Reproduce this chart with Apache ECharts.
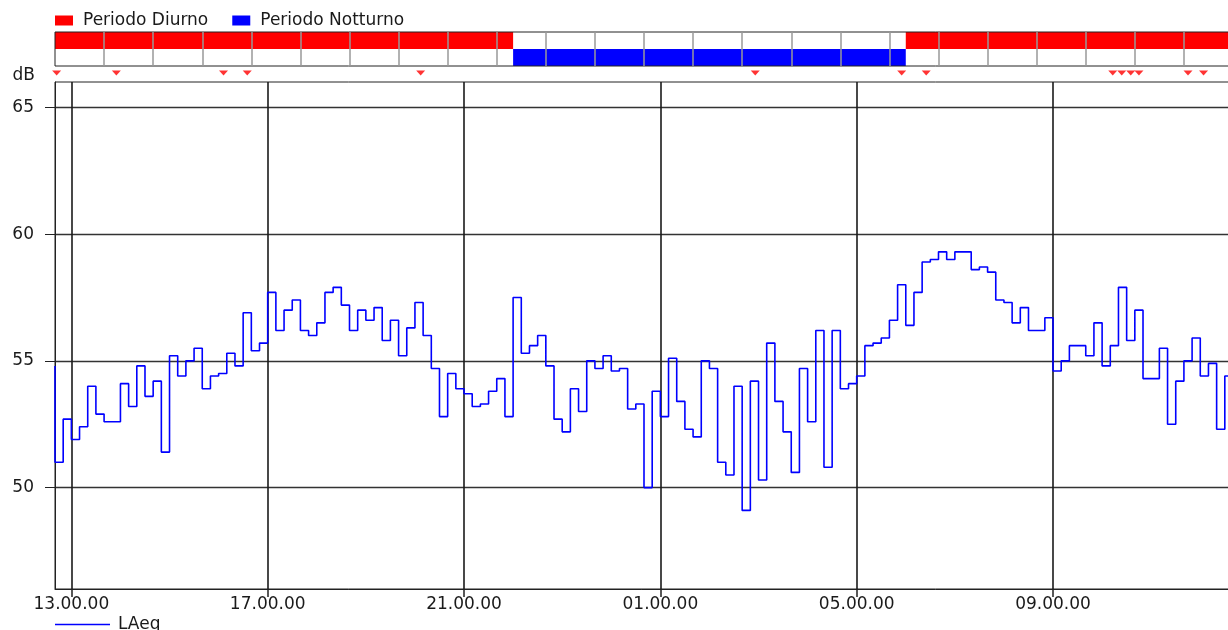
<!DOCTYPE html>
<html>
<head>
<meta http-equiv="content-type" content="text/html; charset=UTF-8">
<title>index.html</title>
<style type="text/css">
html, body {
  margin: 0;
  padding: 0;
  background: #fff;
}
#main {
  width: 1228px;
  height: 630px;
}
</style>
</head>
<body>
  <div id="main"></div>
</body>
<script type="text/javascript" src="https://cdn.jsdelivr.net/npm/echarts@6/dist/echarts.min.js"></script>
<script>
  // tempo in minuti dalla mezzanotte del primo giorno, un valore ogni 10 minuti
  var startMinute = 760; // 12.40
  var endMinute = 2200;  // 12.40 del giorno dopo
  var stepMinutes = 10;

  // LAeq, primo valore = punto iniziale, poi un valore per intervallo
  var laeq = [
    54.8,
    51.0, 52.7, 51.9, 52.4, 54.0, 52.9, 52.6, 52.6, 54.1, 53.2,
    54.8, 53.6, 54.2, 51.4, 55.2, 54.4, 55.0, 55.5, 53.9, 54.4,
    54.5, 55.3, 54.8, 56.9, 55.4, 55.7, 57.7, 56.2, 57.0, 57.4,
    56.2, 56.0, 56.5, 57.7, 57.9, 57.2, 56.2, 57.0, 56.6, 57.1,
    55.8, 56.6, 55.2, 56.3, 57.3, 56.0, 54.7, 52.8, 54.5, 53.9,
    53.7, 53.2, 53.3, 53.8, 54.3, 52.8, 57.5, 55.3, 55.6, 56.0,
    54.8, 52.7, 52.2, 53.9, 53.0, 55.0, 54.7, 55.2, 54.6, 54.7,
    53.1, 53.3, 50.0, 53.8, 52.8, 55.1, 53.4, 52.3, 52.0, 55.0,
    54.7, 51.0, 50.5, 54.0, 49.1, 54.2, 50.3, 55.7, 53.4, 52.2,
    50.6, 54.7, 52.6, 56.2, 50.8, 56.2, 53.9, 54.1, 54.4, 55.6,
    55.7, 55.9, 56.6, 58.0, 56.4, 57.7, 58.9, 59.0, 59.3, 59.0,
    59.3, 59.3, 58.6, 58.7, 58.5, 57.4, 57.3, 56.5, 57.1, 56.2,
    56.2, 56.7, 54.6, 55.0, 55.6, 55.6, 55.2, 56.5, 54.8, 55.6,
    57.9, 55.8, 57.0, 54.3, 54.3, 55.5, 52.5, 54.2, 55.0, 55.9,
    54.4, 54.9, 52.3, 54.4
  ];

  // periodi di riferimento [inizio, fine]
  var diurno = [ [ 760, 1320 ], [ 1800, 2200 ] ];
  var notturno = [ [ 1320, 1800 ] ];

  // marcatori eventi (minuti)
  var eventi = [ 762, 835, 966, 995, 1207, 1616, 1795, 1825, 2053, 2064, 2075, 2085, 2145, 2164 ];

  // etichette asse tempo e divisioni orarie della banda
  var timeTicks = [ 780, 1020, 1260, 1500, 1740, 1980 ];
  var hourMarks = [ 820, 880, 940, 1000, 1060, 1120, 1180, 1240, 1300, 1360, 1420, 1480,
    1540, 1600, 1660, 1720, 1780, 1840, 1900, 1960, 2020, 2080, 2140 ];
  var dbTicks = [ 50, 55, 60, 65 ];

  var font = 'DejaVu Sans';

  var lineData = [];
  for (var i = 0; i < laeq.length; i++) {
    lineData.push([ startMinute + i * stepMinutes, laeq[i] ]);
  }

  function fmtTime(v) {
    var h = Math.floor(v / 60) % 24;
    return (h < 10 ? '0' : '') + h + '.00.00';
  }

  function periodRenderer(row) {
    return function(params, api) {
      var p0 = api.coord([ api.value(0), row + 1 ]);
      var p1 = api.coord([ api.value(1), row ]);
      var shape = echarts.graphic.clipRectByRect({
        x : p0[0],
        y : p0[1],
        width : p1[0] - p0[0],
        height : p1[1] - p0[1]
      }, {
        x : params.coordSys.x,
        y : params.coordSys.y,
        width : params.coordSys.width,
        height : params.coordSys.height
      });
      return shape && {
        type : 'rect',
        shape : shape,
        style : api.style()
      };
    };
  }

  var myChart = echarts.init(document.getElementById('main'));
  var option = {
    animation : false,
    textStyle : {
      fontFamily : font
    },
    legend : [ {
      data : [ 'Periodo Diurno', 'Periodo Notturno' ],
      left : 55,
      top : 12,
      padding : 0,
      icon : 'rect',
      itemWidth : 18,
      itemHeight : 10,
      itemGap : 24,
      textStyle : {
        fontFamily : font,
        fontSize : 17,
        color : '#1a1a1a',
        padding : [ 0, 0, 0, 5 ]
      }
    }, {
      data : [ 'LAeq' ],
      left : 55,
      top : 616,
      padding : 0,
      icon : 'rect',
      itemWidth : 55,
      itemHeight : 1.5,
      textStyle : {
        fontFamily : font,
        fontSize : 17,
        color : '#1a1a1a',
        padding : [ 0, 0, 0, 3 ]
      }
    } ],
    grid : [ {
      left : 55,
      width : 1178,
      top : 82,
      bottom : 41,
      outerBoundsMode : 'none',
      show : true,
      borderColor : '#222',
      borderWidth : 1
    }, {
      left : 55,
      width : 1178,
      top : 32,
      height : 34,
      outerBoundsMode : 'none',
      show : true,
      borderColor : '#222',
      borderWidth : 1
    }, {
      left : 55,
      width : 1178,
      top : 69,
      height : 8,
      outerBoundsMode : 'none'
    } ],
    xAxis : [ {
      type : 'value',
      gridIndex : 0,
      min : startMinute,
      max : endMinute,
      axisLine : {
        lineStyle : {
          color : '#222'
        }
      },
      axisTick : {
        customValues : timeTicks,
        length : 8,
        lineStyle : {
          color : '#222',
          width : 1.5
        }
      },
      axisLabel : {
        customValues : timeTicks,
        formatter : fmtTime,
        margin : 7,
        fontFamily : font,
        fontSize : 17,
        color : '#1a1a1a'
      },
      splitLine : {
        show : true,
        lineStyle : {
          color : '#1a1a1a',
          width : 1.6
        }
      }
    }, {
      type : 'value',
      gridIndex : 1,
      min : startMinute,
      max : endMinute,
      axisLine : {
        show : false
      },
      axisTick : {
        show : false,
        customValues : hourMarks
      },
      axisLabel : {
        show : false
      },
      splitLine : {
        show : true,
        lineStyle : {
          color : '#999',
          width : 1.5
        }
      }
    }, {
      type : 'value',
      gridIndex : 2,
      min : startMinute,
      max : endMinute,
      show : false
    } ],
    yAxis : [ {
      type : 'value',
      gridIndex : 0,
      min : 46,
      max : 66,
      name : 'dB',
      nameLocation : 'end',
      nameGap : 6,
      nameTextStyle : {
        fontFamily : font,
        fontSize : 17,
        color : '#1a1a1a',
        align : 'right',
        verticalAlign : 'middle',
        padding : [ 0, 20, 0, 0 ]
      },
      axisLine : {
        show : true,
        lineStyle : {
          color : '#222'
        }
      },
      axisTick : {
        show : true,
        customValues : dbTicks,
        length : 10,
        lineStyle : {
          color : '#222'
        }
      },
      axisLabel : {
        customValues : dbTicks,
        margin : 21,
        fontFamily : font,
        fontSize : 17,
        color : '#1a1a1a'
      },
      splitLine : {
        show : true,
        lineStyle : {
          color : '#333',
          width : 1.3
        }
      }
    }, {
      type : 'value',
      gridIndex : 1,
      min : 0,
      max : 2,
      show : false,
      splitLine : {
        show : false
      }
    }, {
      type : 'value',
      gridIndex : 2,
      min : -1,
      max : 1,
      show : false
    } ],
    series : [ {
      name : 'LAeq',
      type : 'line',
      xAxisIndex : 0,
      yAxisIndex : 0,
      step : 'start',
      symbol : 'none',
      data : lineData,
      z : 5,
      itemStyle : {
        color : '#0000ff'
      },
      lineStyle : {
        color : '#0000ff',
        width : 1.6
      }
    }, {
      name : 'Periodo Diurno',
      type : 'custom',
      xAxisIndex : 1,
      yAxisIndex : 1,
      renderItem : periodRenderer(1),
      data : diurno,
      z : -1,
      itemStyle : {
        color : '#ff0000'
      }
    }, {
      name : 'Periodo Notturno',
      type : 'custom',
      xAxisIndex : 1,
      yAxisIndex : 1,
      renderItem : periodRenderer(0),
      data : notturno,
      z : -1,
      itemStyle : {
        color : '#0000ff'
      }
    }, {
      name : 'Eventi',
      type : 'scatter',
      xAxisIndex : 2,
      yAxisIndex : 2,
      symbol : 'triangle',
      symbolRotate : 180,
      symbolSize : [ 9, 5 ],
      itemStyle : {
        color : '#ff0000'
      },
      data : eventi.map(function(t) {
        return [ t, 0 ];
      })
    } ]
  };
  myChart.setOption(option);
</script>
</html>
